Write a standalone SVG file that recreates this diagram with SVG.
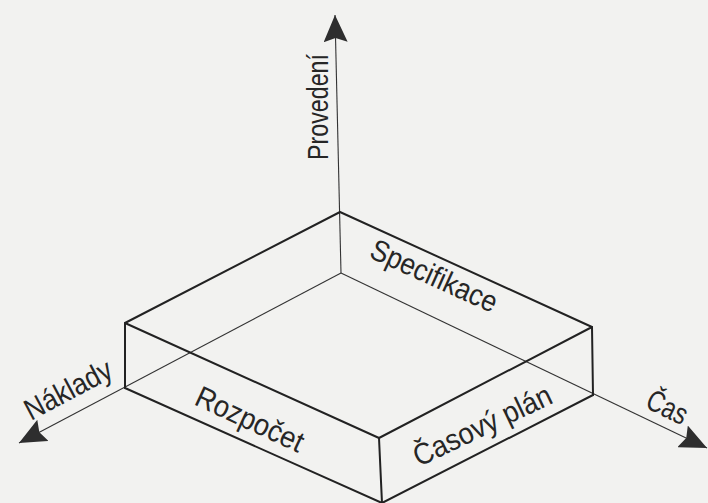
<svg xmlns="http://www.w3.org/2000/svg" width="708" height="503" viewBox="0 0 708 503">
<style>
.edge{stroke:#222;stroke-width:2;fill:none;stroke-linecap:round;stroke-linejoin:round}
.axis{stroke:#333;stroke-width:1.1;fill:none}
.lbl{font-family:"Liberation Sans","Arial",sans-serif;font-size:30px;fill:#262626}
</style>
<defs>
<marker id="arrow" markerUnits="userSpaceOnUse" markerWidth="28" markerHeight="24" refX="27" refY="12" orient="auto">
<path d="M0,0 L27,12 L0,24 L4,12 z" fill="#2e2e2e"/>
</marker>
</defs>
<rect x="0" y="0" width="708" height="503" fill="#f2f2f0"/>
<g id="connectors">
<line id="axis-provedeni" class="axis" x1="341" y1="273" x2="335" y2="15" marker-end="url(#arrow)"/>
<line id="axis-naklady" class="axis" x1="341" y1="273" x2="19" y2="443" marker-end="url(#arrow)"/>
<line id="axis-cas" class="axis" x1="341" y1="273" x2="707" y2="448" marker-end="url(#arrow)"/>
</g>
<g id="box">
<polygon class="edge" points="340,212 592,327 379,438 125,323"/>
<line class="edge" x1="125" y1="323" x2="125" y2="388"/>
<line class="edge" x1="592" y1="327" x2="593" y2="395"/>
<line class="edge" x1="379" y1="438" x2="382" y2="503"/>
<line class="edge" x1="125" y1="388" x2="382" y2="503"/>
<line class="edge" x1="593" y1="395" x2="382" y2="503"/>
</g>
<g id="label-provedeni"><text class="lbl" transform="translate(328,160) rotate(-90)" textLength="106" lengthAdjust="spacingAndGlyphs">Provedení</text></g>
<g id="label-naklady"><text class="lbl" transform="translate(31,421) rotate(-28)" textLength="95" lengthAdjust="spacingAndGlyphs">Náklady</text></g>
<g id="label-cas"><text class="lbl" transform="translate(644,407) rotate(26)" textLength="42" lengthAdjust="spacingAndGlyphs">Čas</text></g>
<g id="label-specifikace"><text class="lbl" transform="translate(368,257) rotate(24.4)" textLength="136" lengthAdjust="spacingAndGlyphs">Specifikace</text></g>
<g id="label-rozpocet"><text class="lbl" transform="translate(193,404) rotate(25)" textLength="116" lengthAdjust="spacingAndGlyphs">Rozpočet</text></g>
<g id="label-casovy-plan"><text class="lbl" transform="translate(419,467) rotate(-25.5)" textLength="150" lengthAdjust="spacingAndGlyphs">Časový plán</text></g>
</svg>
